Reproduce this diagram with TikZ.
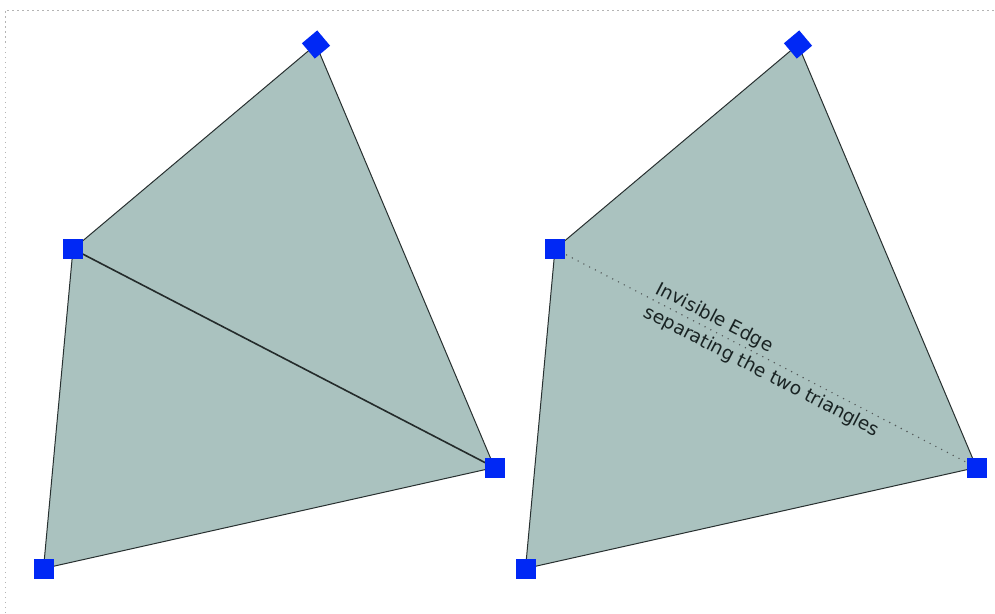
\documentclass[tikz,border=0pt]{standalone}
\usepackage{fontspec}
\setmainfont{DejaVu Sans}
\usetikzlibrary{backgrounds}
\definecolor{fillc}{RGB}{170,194,191}
\definecolor{vblue}{RGB}{0,40,245}
\definecolor{edgec}{RGB}{40,48,48}
\definecolor{framec}{RGB}{180,180,180}
\definecolor{textc}{RGB}{25,35,35}
\tikzset{
  vert/.style={rectangle, fill=vblue, minimum size=20pt, inner sep=0pt},
  outeredge/.style={draw=edgec, line width=1pt, line join=round},
  inneredge/.style={draw=edgec!90!black, line width=1.6pt},
  hiddenedge/.style={draw=edgec!80, line width=1.6pt, line cap=round, dash pattern=on 0pt off 6.5pt},
  framestyle/.style={draw=framec, line width=1pt, dash pattern=on 1.5pt off 3.5pt},
  edgelabel/.style={text=textc, font=\fontsize{18.5}{26}\selectfont, align=left, inner sep=0pt}
}
\begin{document}
\begin{tikzpicture}[x=1pt,y=-1pt]
\useasboundingbox (0,0) rectangle (995,613);
% frame
\coordinate (f1) at (5,613);
\coordinate (f2) at (5,10);
\coordinate (f3) at (995,10);
\draw[framestyle] (f1) -- (f2) -- (f3);
% left shape vertices
\node[vert, rotate=40] (a1) at (316,44.5) {};
\node[vert] (a2) at (73,249) {};
\node[vert] (a3) at (43.5,568.5) {};
\node[vert] (a4) at (494.5,467.5) {};
% right shape vertices
\node[vert, rotate=40] (b1) at (798,44.5) {};
\node[vert] (b2) at (555,249) {};
\node[vert] (b3) at (525.5,568.5) {};
\node[vert] (b4) at (976.5,467.5) {};
\begin{scope}[on background layer]
  \fill[fillc] (a1.center) -- (a2.center) -- (a3.center) -- (a4.center) -- cycle;
  \draw[outeredge] (a1.center) -- (a2.center) -- (a3.center) -- (a4.center) -- cycle;
  \draw[inneredge] (a2.center) -- (a4.center);
  \fill[fillc] (b1.center) -- (b2.center) -- (b3.center) -- (b4.center) -- cycle;
  \draw[outeredge] (b1.center) -- (b2.center) -- (b3.center) -- (b4.center) -- cycle;
  \draw[hiddenedge] (b2.center) -- node[edgelabel, sloped, pos=0.505, yshift=-1pt] (lbl) {Invisible Edge\\separating the two triangles} (b4.center);
\end{scope}
\end{tikzpicture}
\end{document}
